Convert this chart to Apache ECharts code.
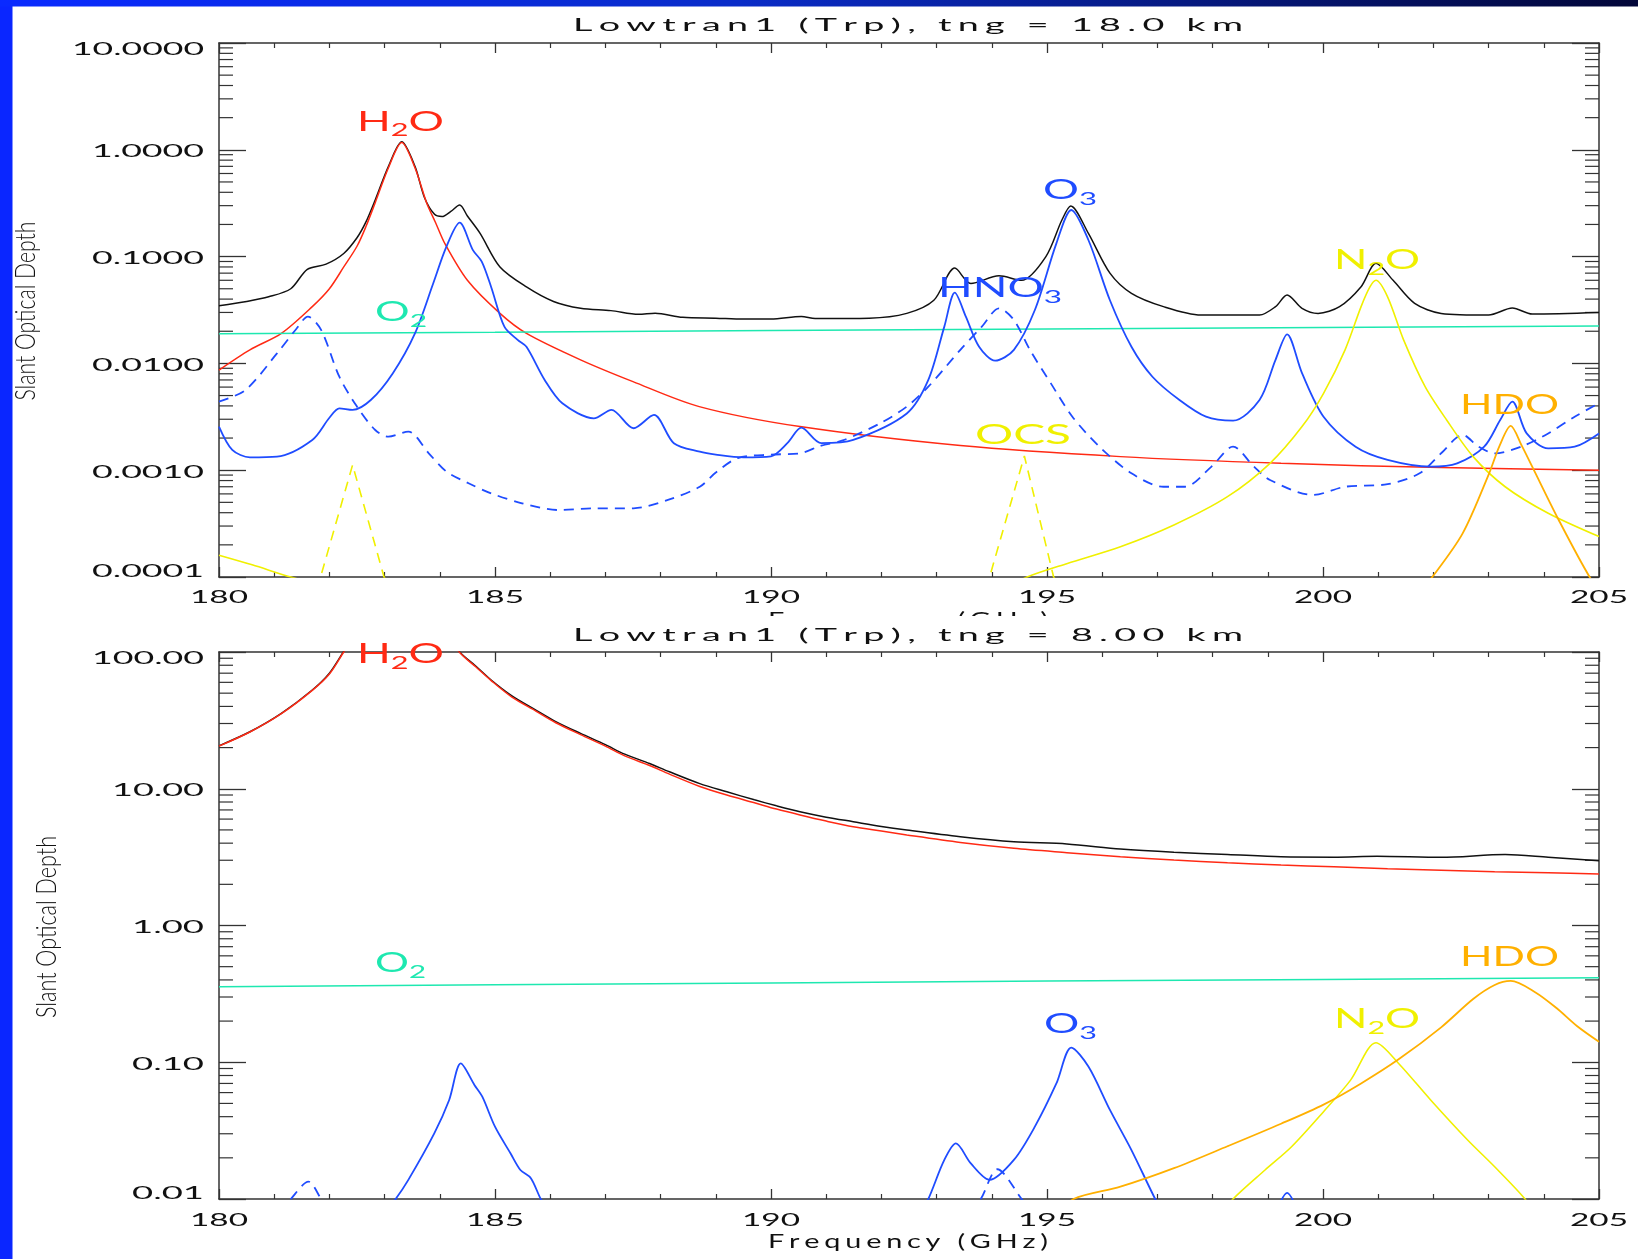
<!DOCTYPE html>
<html><head><meta charset="utf-8">
<script src="https://cdn.jsdelivr.net/npm/echarts@6/dist/echarts.min.js"></script>
<style>html,body{margin:0;padding:0;background:#fff}#c{width:1638px;height:1259px}</style>
</head><body><div id="c"></div>
<script>
// ---------------- data ----------------
const xTicks = [180, 185, 190, 195, 200, 205];
const xTickLabels = ['180', '185', '190', '195', '200', '205'];
const topYTicks = [10, 1, 0.1, 0.01, 0.001, 0.0001];
const topYTickLabels = ['10.0000', '1.0000', '0.1000', '0.0100', '0.0010', '0.0001'];
const botYTicks = [100, 10, 1, 0.1, 0.01];
const botYTickLabels = ['100.00', '10.00', '1.00', '0.10', '0.01'];
const topTitle = 'Lowtran1 (Trp), tng = 18.0 km';
const botTitle = 'Lowtran1 (Trp), tng = 8.00 km';
const xName = 'Frequency (GHz)';
const yName = 'Slant Optical Depth';

// top panel (tangent height 18 km)
const topTotal = [[180,0.0347],[180.5,0.038],[180.9,0.042],[181.3,0.05],[181.6,0.076],[181.94,0.085],[182.26,0.107],[182.5,0.15],[182.66,0.21],[182.83,0.339],[183.07,0.70],[183.31,1.19],[183.55,0.70],[183.72,0.36],[183.9,0.25],[184.04,0.237],[184.2,0.265],[184.36,0.304],[184.5,0.24],[184.73,0.165],[185.09,0.080],[185.57,0.052],[186.06,0.038],[186.55,0.0328],[187.1,0.0312],[187.6,0.0288],[187.9,0.0295],[188.4,0.027],[189,0.0265],[189.5,0.026],[190,0.026],[190.55,0.0275],[190.8,0.0263],[191.78,0.0265],[192.46,0.0294],[192.95,0.039],[193.33,0.078],[193.62,0.056],[194.13,0.066],[194.54,0.060],[194.98,0.1],[195.27,0.22],[195.43,0.298],[195.75,0.165],[196.14,0.070],[196.53,0.0453],[197.11,0.034],[197.79,0.0284],[198.85,0.0284],[199.14,0.034],[199.35,0.0437],[199.62,0.0328],[199.91,0.0294],[200.3,0.034],[200.69,0.0523],[200.96,0.0865],[201.27,0.060],[201.66,0.0365],[202.14,0.0294],[203.0,0.0284],[203.43,0.033],[203.79,0.029],[205,0.030]];
const topH2O = [[180,0.00867],[180.56,0.0134],[181.13,0.0191],[181.69,0.034],[182.0,0.05],[182.26,0.080],[182.5,0.125],[182.66,0.19],[182.83,0.32],[183.07,0.68],[183.31,1.17],[183.55,0.68],[183.76,0.32],[183.92,0.21],[184.1,0.13],[184.5,0.060],[185.09,0.0294],[185.57,0.0191],[186.55,0.0108],[187.5,0.00675],[188.7,0.00394],[190.525,0.00256],[193.43,0.0017],[196.33,0.00134],[199.24,0.00116],[202.14,0.00106],[205,0.001]];
const topO2 = [[180,0.0190],[185,0.0196],[190,0.0203],[195,0.0210],[200,0.0217],[205,0.0224]];
const topO3 = [[180,0.00256],[180.24,0.00155],[180.56,0.00132],[181.05,0.00134],[181.69,0.00192],[182.0,0.0031],[182.18,0.0038],[182.42,0.00367],[182.75,0.00454],[183.15,0.0081],[183.55,0.0191],[183.88,0.056],[184.12,0.124],[184.36,0.208],[184.6,0.115],[184.76,0.0897],[184.93,0.052],[185.17,0.0221],[185.41,0.0166],[185.57,0.0143],[185.9,0.0070],[186.22,0.00423],[186.79,0.00306],[187.11,0.00367],[187.51,0.00247],[187.88,0.00329],[188.24,0.00179],[188.71,0.00149],[189.0,0.0014],[189.5,0.00132],[190.0,0.00135],[190.3,0.0018],[190.55,0.0025],[190.91,0.00179],[191.49,0.00192],[192.46,0.0034],[192.85,0.0070],[193.14,0.0221],[193.33,0.0459],[193.53,0.0274],[193.77,0.0143],[194.06,0.0106],[194.4,0.0134],[194.78,0.0316],[195.17,0.133],[195.44,0.273],[195.75,0.143],[196.14,0.039],[196.53,0.0143],[196.91,0.0075],[197.4,0.00454],[197.88,0.00317],[198.37,0.00291],[198.85,0.00454],[199.14,0.0108],[199.35,0.0187],[199.62,0.0081],[200.01,0.00317],[200.59,0.00166],[201.17,0.00125],[201.95,0.00108],[202.43,0.00116],[202.92,0.00166],[203.21,0.00295],[203.43,0.00438],[203.69,0.00221],[204.08,0.0016],[204.56,0.00166],[205,0.00221]];
const topHNO3 = [[180,0.00438],[180.48,0.00564],[181.05,0.0124],[181.4,0.021],[181.61,0.0274],[181.85,0.0206],[182.18,0.0075],[182.5,0.00394],[182.83,0.00238],[183.07,0.00206],[183.43,0.0023],[183.8,0.00144],[184.12,0.00097],[184.53,0.00075],[184.93,0.000607],[185.49,0.00049],[186.14,0.000424],[186.79,0.00044],[187.51,0.00044],[188.16,0.000533],[188.71,0.0007],[189.0,0.00095],[189.4,0.0013],[190.0,0.0014],[190.525,0.00144],[190.91,0.0017],[191.3,0.0019],[191.98,0.00275],[192.46,0.00394],[192.85,0.00605],[193.43,0.0134],[193.82,0.0221],[194.13,0.0328],[194.4,0.0255],[194.69,0.0134],[195.07,0.0065],[195.46,0.00317],[195.95,0.00166],[196.53,0.000935],[197.11,0.0007],[197.5,0.0007],[197.98,0.00108],[198.37,0.00166],[198.75,0.00108],[199.04,0.00081],[199.82,0.000586],[200.4,0.0007],[201.17,0.00074],[201.75,0.000935],[202.14,0.00144],[202.53,0.00214],[202.82,0.00166],[203.11,0.00144],[203.59,0.00166],[204.08,0.00221],[204.56,0.00317],[205,0.00423]];
const topN2O = [[180,0.00016],[180.6,0.00013],[181.3,0.0001],[182,0.00008],[188,null],[194.3,0.00008],[194.64,0.0001],[195.37,0.000134],[196.33,0.000192],[197.3,0.000307],[198.27,0.000565],[199.04,0.00116],[199.62,0.00256],[200.01,0.00525],[200.4,0.0134],[200.69,0.034],[200.85,0.052],[200.96,0.060],[201.17,0.042],[201.46,0.0166],[201.85,0.00605],[202.24,0.00295],[202.72,0.00134],[203.3,0.0007],[204.08,0.000395],[205,0.000239]];
const topOCS = [[181.7,0.00008],[181.84,0.0001],[182.42,0.00112],[182.99,0.0001],[183.1,0.00008],[188,null],[193.85,0.00008],[193.96,0.0001],[194.59,0.00136],[195.12,0.0001],[195.25,0.00008]];
const topHDO = [[201.8,0.00008],[201.98,0.0001],[202.53,0.000256],[203.01,0.000935],[203.2,0.0017],[203.4,0.0026],[203.6,0.0017],[203.79,0.00108],[204.27,0.000342],[204.83,0.0001],[205,0.00008]];

// bottom panel (tangent height 8 km)
const botTotal = [[180,20.6],[180.56,26.1],[181.13,35.6],[181.69,52.7],[182.0,70],[182.26,101],[182.6,160],[183.3,400],[184.0,160],[184.36,100],[184.65,79],[184.93,62.4],[185.3,48],[185.74,37.6],[186.1,31],[186.55,25.4],[187.0,21],[187.35,17.9],[187.8,15.3],[188.16,13.3],[188.71,10.9],[189.2,9.5],[189.7,8.3],[190.1,7.5],[190.525,6.79],[191.0,6.2],[191.49,5.74],[192.0,5.3],[192.46,4.99],[193.43,4.46],[194.4,4.10],[195.36,3.95],[196.33,3.62],[197.3,3.43],[198.27,3.31],[199.24,3.18],[200.2,3.16],[200.98,3.21],[202.14,3.15],[203.3,3.31],[204.08,3.16],[205,2.98]];
const botH2O = [[180,20.5],[180.56,26.0],[181.13,35.4],[181.69,52.4],[182.0,69],[182.26,100],[182.6,160],[183.3,400],[184.0,160],[184.36,99],[184.65,78],[184.93,61.8],[185.3,47],[185.74,37.0],[186.1,30.4],[186.55,24.9],[187.0,20.5],[187.35,17.4],[187.8,14.8],[188.16,12.8],[188.71,10.4],[189.2,9.0],[189.7,7.9],[190.1,7.1],[190.525,6.43],[191.0,5.8],[191.49,5.27],[192.0,4.9],[192.46,4.59],[193.43,4.05],[194.4,3.67],[195.36,3.41],[196.33,3.18],[197.3,3.01],[198.27,2.88],[199.24,2.77],[200.2,2.69],[201.17,2.60],[202.14,2.53],[203.11,2.47],[204.08,2.43],[205,2.38]];
const botO2 = [[180,0.357],[185,0.368],[190,0.38],[195,0.392],[200,0.403],[205,0.415]];
const botO3 = [[183.0,0.008],[183.2,0.01],[183.43,0.0138],[183.9,0.0302],[184.17,0.053],[184.38,0.098],[184.63,0.068],[184.77,0.056],[185.0,0.0338],[185.28,0.0216],[185.46,0.0163],[185.65,0.0142],[185.83,0.01],[186.0,0.008],[187,null],[192.7,0.008],[192.85,0.01],[193.14,0.0193],[193.35,0.0255],[193.62,0.0182],[193.96,0.0138],[194.4,0.0193],[194.78,0.0338],[195.17,0.070],[195.44,0.128],[195.75,0.093],[196.14,0.0448],[196.53,0.0228],[196.96,0.01],[197.1,0.008],[198,null],[199.15,0.008],[199.35,0.0111],[199.55,0.008]];
const botHNO3 = [[181.1,0.008],[181.3,0.01],[181.62,0.0134],[181.85,0.01],[182.0,0.008],[183,null],[193.6,0.008],[193.8,0.01],[194.1,0.0165],[194.54,0.01],[194.7,0.008]];
const botN2O = [[198.2,0.008],[198.37,0.01],[198.95,0.0163],[199.43,0.0241],[200.01,0.0435],[200.5,0.074],[200.96,0.139],[201.37,0.098],[201.95,0.053],[202.62,0.027],[203.11,0.0172],[203.66,0.01],[203.8,0.008]];
const botHDO = [[195.3,0.008],[195.48,0.01],[196.33,0.0123],[197.3,0.0168],[198.27,0.0243],[199.24,0.0355],[200.01,0.049],[200.69,0.070],[201.37,0.105],[202.14,0.180],[202.72,0.29],[203.11,0.367],[203.4,0.393],[203.85,0.324],[204.23,0.249],[204.6,0.184],[205,0.141]];

const minorMult = [2, 3, 4, 5, 6, 7, 8, 9];

// ---------------- styling ----------------
const C = { black:'#111111', red:'#ff2a14', blue:'#1f4cff', teal:'#1ee8b0', yellow:'#f0f000', orange:'#ffb000', axis:'#333333' };
const FAM = "Lato, 'DejaVu Sans', sans-serif";
const G1 = { left: 219, top: 43, width: 1380, height: 534 };
const G2 = { left: 219, top: 652, width: 1380, height: 547 };

function minorVals(lo, hi) {
  const out = [];
  for (let k = lo; k < hi; k++) minorMult.forEach(m => out.push([180, m * Math.pow(10, k)]));
  return out;
}
function xAx(grid, pos) {
  return { type:'value', gridIndex:grid, position:pos, min:180, max:205, interval:5,
    axisLine:{ show:true, onZero:false, lineStyle:{ color:C.axis, width:1.5 } },
    axisTick:{ show:true, inside:true, length:10, lineStyle:{ color:C.axis, width:1.3 } },
    minorTick:{ show:true, splitNumber:5, length:5, lineStyle:{ color:C.axis, width:1.2 } },
    axisLabel:{ show:false }, splitLine:{ show:false } };
}
function yAx(grid, pos, mn, mx) {
  return { type:'log', logBase:10, gridIndex:grid, position:pos, min:mn, max:mx,
    axisLine:{ show:true, onZero:false, lineStyle:{ color:C.axis, width:1.5 } },
    axisTick:{ show:true, inside:true, length:27, lineStyle:{ color:C.axis, width:1.3 } },
    axisLabel:{ show:false }, splitLine:{ show:false } };
}
function line(name, data, xi, yi, color, w, dashed, smooth) {
  return { name, type:'line', data, xAxisIndex:xi, yAxisIndex:yi, symbol:'none', showSymbol:false,
    smooth: smooth === undefined ? 0.3 : smooth, clip:true, connectNulls:false, animation:false, silent:true,
    lineStyle:{ color, width:w, type: dashed ? [10, 7] : 'solid' } };
}
function minorSeries(data, xi, yi) {
  return { type:'custom', xAxisIndex:xi, yAxisIndex:yi, data, silent:true, animation:false, clip:false,
    renderItem(params, api) {
      const v = api.value(1);
      const pL = api.coord([180, v]), pR = api.coord([205, v]);
      const st = { stroke:C.axis, lineWidth:1.2 };
      return { type:'group', children:[
        { type:'line', shape:{ x1:pL[0], y1:pL[1], x2:pL[0] + 14, y2:pL[1] }, style:st },
        { type:'line', shape:{ x1:pR[0], y1:pR[1], x2:pR[0] - 14, y2:pR[1] }, style:st } ] };
    } };
}

const option = {
  backgroundColor:'#ffffff', animation:false,
  grid:[ Object.assign({ containLabel:false }, G1), Object.assign({ containLabel:false }, G2) ],
  xAxis:[ xAx(0,'bottom'), xAx(0,'top'), xAx(1,'bottom'), xAx(1,'top') ],
  yAxis:[ yAx(0,'left',0.0001,10), yAx(0,'right',0.0001,10), yAx(1,'left',0.01,100), yAx(1,'right',0.01,100) ],
  series:[
    minorSeries(minorVals(-4, 1), 0, 0),
    minorSeries(minorVals(-2, 2), 2, 2),
    line('Total', topTotal, 0, 0, C.black, 1.5),
    line('H2O', topH2O, 0, 0, C.red, 1.5),
    line('O2', topO2, 0, 0, C.teal, 1.5, false, false),
    line('O3', topO3, 0, 0, C.blue, 1.8),
    line('HNO3', topHNO3, 0, 0, C.blue, 1.8, true),
    line('N2O', topN2O, 0, 0, C.yellow, 1.6),
    line('OCS', topOCS, 0, 0, C.yellow, 1.6, true, false),
    line('HDO', topHDO, 0, 0, C.orange, 1.8),
    line('Total', botTotal, 2, 2, C.black, 1.5),
    line('H2O', botH2O, 2, 2, C.red, 1.5),
    line('O2', botO2, 2, 2, C.teal, 1.5, false, false),
    line('O3', botO3, 2, 2, C.blue, 1.8),
    line('HNO3', botHNO3, 2, 2, C.blue, 1.8, true),
    line('N2O', botN2O, 2, 2, C.yellow, 1.6),
    line('HDO', botHDO, 2, 2, C.orange, 1.8)
  ]
};

const chart = echarts.init(document.getElementById('c'), null, { renderer:'canvas' });
chart.setOption(option);

// ---------------- text (real text, drawn as graphic) ----------------
const ctx = document.createElement('canvas').getContext('2d');
function mw(s, size, fw) { ctx.font = fw + ' ' + size + 'px ' + FAM; return ctx.measureText(s).width; }
function spaced(s) { return Array.from(s).join('\u2006'); }
function T(s, x, y, size, color, opt) {
  opt = opt || {};
  const fw = opt.fw || 400;
  const sx = opt.w ? opt.w / mw(s, size, fw) : (opt.sx || 1);
  return { type:'text', x, y, rotation: opt.rot || 0, scaleX: sx, z:100, silent:true,
    style:{ text:s, fontSize:size, fontFamily:FAM, fontWeight:fw, fill:color, align:opt.align || 'center', verticalAlign:'middle' } };
}
function numW(s) {  // printed width of a tick label in the reference's wide plot font
  let w = 0; for (const ch of s) w += (ch === '.' ? 14 : 20); return w - 2;
}
function R(parts, x, y, color, w) {
  let txt = '', nat = 0;
  parts.forEach(p => { txt += '{' + (p[1] ? 's' : 'n') + '|' + p[0] + '}'; nat += mw(p[0], p[1] ? 18 : 26, 400); });
  return { type:'text', x, y, scaleX: w / nat, z:100, silent:true,
    style:{ text:txt, align:'left', verticalAlign:'middle',
      rich:{ n:{ fontSize:26, fontFamily:FAM, fontWeight:400, fill:color, lineHeight:34 },
             s:{ fontSize:18, fontFamily:FAM, fontWeight:400, fill:color, lineHeight:16, verticalAlign:'bottom' } } } };
}

const g = [];
// blue slide frame
g.push({ type:'rect', shape:{ x:0, y:0, width:12.5, height:1259 }, style:{ fill:'#0a26ff' }, z:50, silent:true });
g.push({ type:'rect', shape:{ x:0, y:0, width:1638, height:6.5 }, z:50, silent:true,
  style:{ fill: new echarts.graphic.LinearGradient(0, 0, 1, 0, [
    { offset:0, color:'#0a2aff' }, { offset:0.45, color:'#0a2cc8' }, { offset:1, color:'#020638' } ]) } });

// tick labels positioned from the axes' scales
const topBottomPx = chart.convertToPixel({ yAxisIndex:0 }, 0.0001);
const botBottomPx = chart.convertToPixel({ yAxisIndex:2 }, 0.01);
xTicks.forEach((v, i) => {
  const px = chart.convertToPixel({ xAxisIndex:0 }, v);
  g.push(T(xTickLabels[i], px, topBottomPx + 20, 18, '#111', { w:numW(xTickLabels[i]) }));
  const px2 = chart.convertToPixel({ xAxisIndex:2 }, v);
  g.push(T(xTickLabels[i], px2, botBottomPx + 21, 18, '#111', { w:numW(xTickLabels[i]) }));
});
function yLabels(ticks, labels, yi, top, bottom) {
  ticks.forEach((v, i) => {
    let py = chart.convertToPixel({ yAxisIndex:yi }, v) + 1.5;
    py = Math.min(Math.max(py, top + 6.5), bottom - 5.5);
    g.push(T(labels[i], 204, py, 18, '#111', { w:numW(labels[i]), align:'right' }));
  });
}
yLabels(topYTicks, topYTickLabels, 0, G1.top, G1.top + G1.height);
yLabels(botYTicks, botYTickLabels, 2, G2.top, G2.top + G2.height);

// top panel x title (mostly hidden behind the lower panel's title band)
g.push(T(spaced(xName), 908, 620, 20, '#111', { w:280 }));
g.push({ type:'rect', shape:{ x:14, y:616, width:1624, height:33 }, style:{ fill:'#ffffff' }, z:100, silent:true });

// titles and axis names
g.push(T(spaced(topTitle), 908, 25, 18, '#111', { w:670 }));
g.push(T(spaced(botTitle), 908, 635, 18, '#111', { w:670 }));
g.push(T(spaced(xName), 908, 1242, 20, '#111', { w:280 }));
g.push(T(yName, 26, 311, 27, '#111', { w:179, rot:Math.PI / 2, fw:300 }));
g.push(T(yName, 47, 927, 27, '#111', { w:182, rot:Math.PI / 2, fw:300 }));

// species annotations
g.push(R([['H',0],['2',1],['O',0]], 357, 122.5, C.red, 87));
g.push(R([['O',0],['2',1]], 375, 313, C.teal, 52));
g.push(R([['O',0],['3',1]], 1043, 191, C.blue, 54));
g.push(R([['HNO',0],['3',1]], 938, 289, C.blue, 124));
g.push(R([['N',0],['2',1],['O',0]], 1334, 261, C.yellow, 86));
g.push(R([['OCS',0]], 975, 436, C.yellow, 96));
g.push(R([['HDO',0]], 1460, 406, C.orange, 99));
g.push(R([['H',0],['2',1],['O',0]], 357, 655, C.red, 87));
g.push(R([['O',0],['2',1]], 375, 964, C.teal, 51));
g.push(R([['O',0],['3',1]], 1044, 1025, C.blue, 53));
g.push(R([['N',0],['2',1],['O',0]], 1334, 1020, C.yellow, 86));
g.push(R([['HDO',0]], 1460, 958, C.orange, 99));

chart.setOption({ graphic: g });
</script>
</body></html>
